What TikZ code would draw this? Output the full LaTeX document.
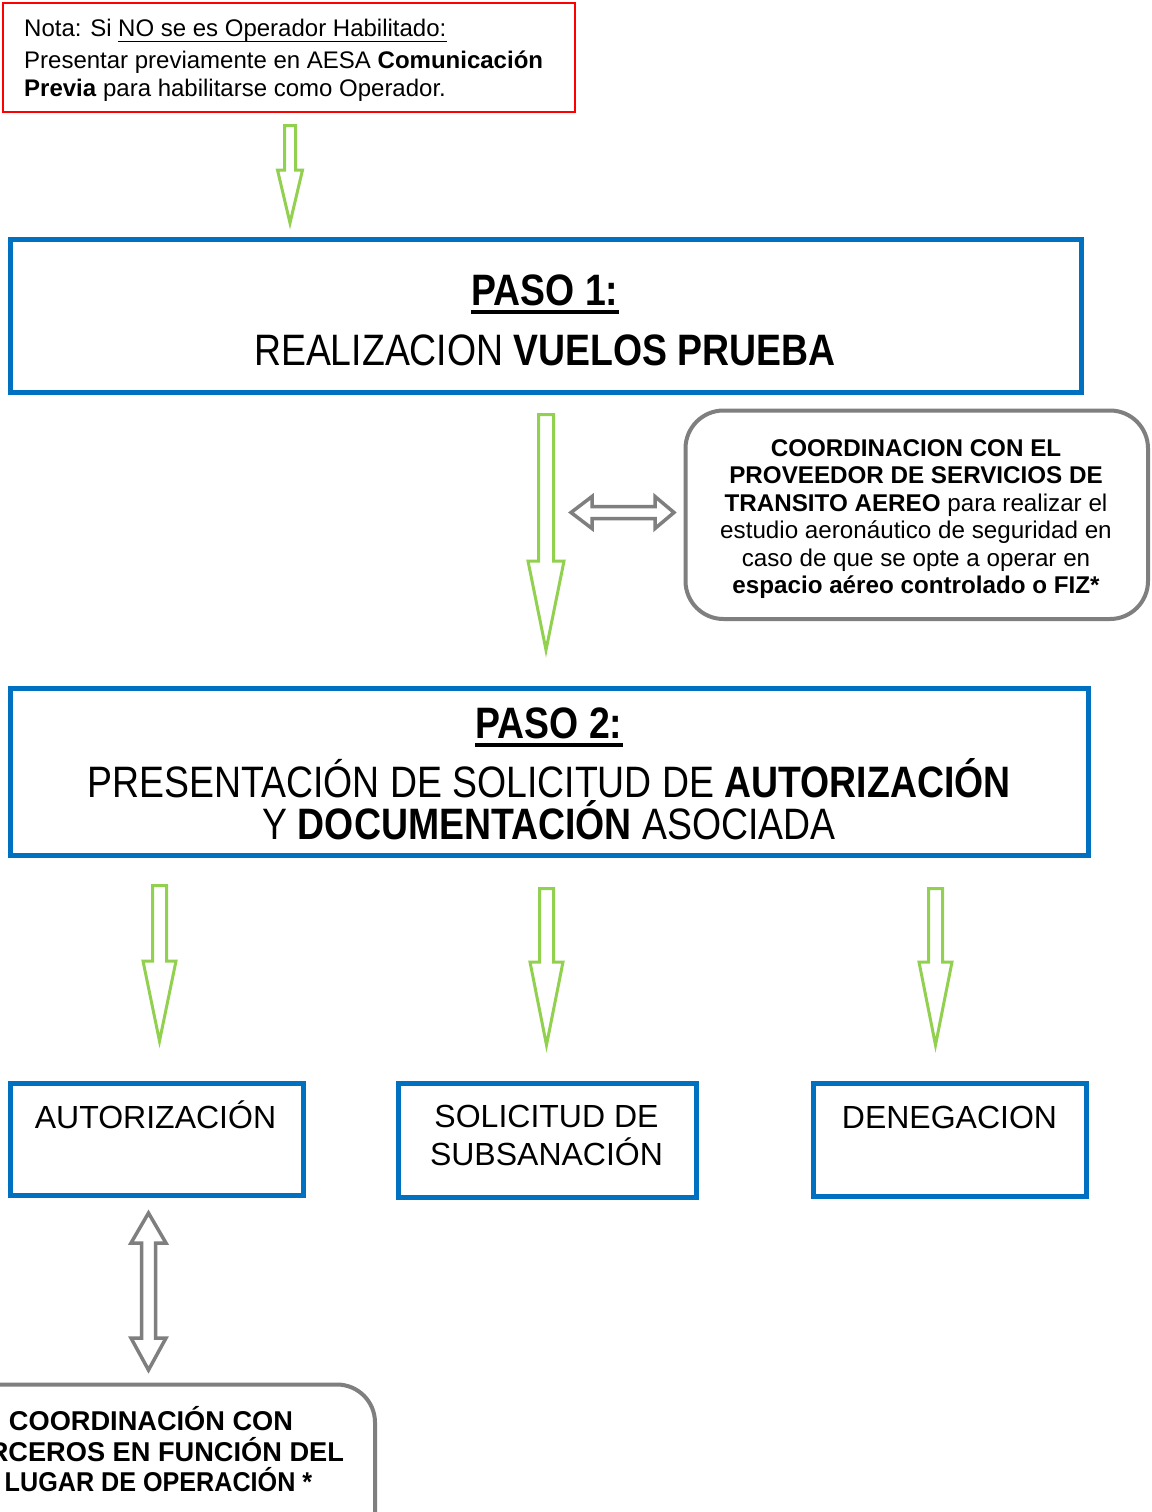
\documentclass[tikz,border=0pt]{standalone}
\usepackage{fontspec}
\setmainfont{Liberation Sans}
\newfontfamily\condfont[FakeStretch=0.85]{Liberation Sans}
\usetikzlibrary{calc}
\definecolor{boxblue}{HTML}{0070C0}
\definecolor{agreen}{HTML}{92D050}
\definecolor{agray}{HTML}{7F7F7F}
% green down block arrow: name, cx, ytop, yhead, ytip, half shaft, half head
\newcommand\gdown[7]{%
  \coordinate (#1-top) at (#2,#3);
  \coordinate (#1-tip) at (#2,#5);
  \draw[garrow] ({#2-#6},#3) -- ({#2+#6},#3) -- ({#2+#6},#4) -- ({#2+#7},#4)
    -- (#1-tip) -- ({#2-#7},#4) -- ({#2-#6},#4) -- cycle;}
% gray horizontal double arrow: name, cy, xl, xlh, xrh, xr, hs, hh
\newcommand\ghdouble[8]{%
  \coordinate (#1-l) at (#3,#2);
  \coordinate (#1-r) at (#6,#2);
  \draw[darrow] (#1-l) -- (#4,{#2-#8}) -- (#4,{#2-#7}) -- (#5,{#2-#7}) -- (#5,{#2-#8})
    -- (#1-r) -- (#5,{#2+#8}) -- (#5,{#2+#7}) -- (#4,{#2+#7}) -- (#4,{#2+#8}) -- cycle;}
% gray vertical double arrow: name, cx, yt, yth, ybh, yb, hs, hh
\newcommand\gvdouble[8]{%
  \coordinate (#1-t) at (#2,#3);
  \coordinate (#1-b) at (#2,#6);
  \draw[darrow] (#1-t) -- ({#2+#8},#4) -- ({#2+#7},#4) -- ({#2+#7},#5) -- ({#2+#8},#5)
    -- (#1-b) -- ({#2-#8},#5) -- ({#2-#7},#5) -- ({#2-#7},#4) -- ({#2-#8},#4) -- cycle;}
\begin{document}
\begin{tikzpicture}[x=1pt,y=-1pt,
  bluebox/.style={draw=boxblue, line width=5pt, inner sep=0pt},
  rbox/.style={draw=agray, line width=4pt, rounded corners=38pt, inner sep=0pt},
  garrow/.style={draw=agreen, line width=3pt, line join=miter, fill=white},
  darrow/.style={draw=agray, line width=3.5pt, line join=miter, fill=white},
  notetxt/.style={font=\fontsize{24}{29}\selectfont, inner sep=0pt, anchor=base west},
  pasotxt/.style={font=\condfont\fontsize{44}{50}\selectfont, inner sep=0pt, anchor=base},
  coordtxt/.style={font=\fontsize{24.2}{28}\selectfont, inner sep=0pt, anchor=base},
  restxt/.style={font=\fontsize{32}{36}\selectfont, inner sep=0pt, anchor=base},
  tertxt/.style={font=\bfseries\fontsize{27.2}{30}\selectfont, inner sep=0pt, anchor=base}]
\useasboundingbox (0,0) rectangle (1151,1512);
\clip (0,0) rectangle (1151,1512);
\fill[white] (0,0) rectangle (1151,1512);

% Nota box
\node[draw=red, line width=1.5pt, inner sep=0pt, minimum width=572pt, minimum height=109pt] (nota) at (289,57.5) {};
\node[notetxt] (nota1) at (24,37) {Nota: Si};
\node[notetxt] (nota1u) at ($(nota1.base east)+(6,0)$) {NO se es Operador Habilitado:};
\draw[line width=1.5pt] ($(nota1u.base west)+(0,4.3)$) -- ($(nota1u.base east)+(0,4.3)$);
\node[notetxt] (nota2) at (24,68) {Presentar previamente en AESA \textbf{Comunicación}};
\node[notetxt] (nota3) at (24,96) {\textbf{Previa} para habilitarse como Operador.};

% arrow 1
\gdown{a1}{290}{125.5}{170}{223}{5.5}{12.5}

% PASO 1
\node[bluebox, minimum width=1071pt, minimum height=153pt] (paso1) at (546,316) {};
\node[pasotxt] (paso1t) at (545,305) {\bfseries PASO 1:};
\draw[line width=4pt] ($(paso1t.base west)+(0,6.5)$) -- ($(paso1t.base east)+(0,6.5)$);
\node[pasotxt] (paso1l) at (545,365) {REALIZACION \textbf{VUELOS PRUEBA}};

% arrow 2
\gdown{a2}{546}{414.5}{561}{650}{7.5}{18}

% coordination box (right)
\node[rbox, minimum width=462.5pt, minimum height=208.5pt] (coordA) at (916.75,514.75) {};
\node[coordtxt] (cA1) at (916,456) {\bfseries COORDINACION CON EL};
\node[coordtxt] (cA2) at (916,483.5) {\bfseries PROVEEDOR DE SERVICIOS DE};
\node[coordtxt] (cA3) at (916,511) {\textbf{TRANSITO AEREO} para realizar el};
\node[coordtxt] (cA4) at (916,538.5) {estudio aeronáutico de seguridad en};
\node[coordtxt] (cA5) at (916,566.5) {caso de que se opte a operar en};
\node[coordtxt] (cA6) at (916,593.5) {\bfseries espacio aéreo controlado o FIZ*};

% horizontal double arrow
\ghdouble{h1}{512.5}{571}{592}{655}{674}{6}{16}

% PASO 2
\node[bluebox, minimum width=1078pt, minimum height=167pt] (paso2) at (549.5,772) {};
\node[pasotxt] (paso2t) at (549,738) {\bfseries PASO 2:};
\draw[line width=4pt] ($(paso2t.base west)+(0,6.5)$) -- ($(paso2t.base east)+(0,6.5)$);
\node[pasotxt] (paso2l) at (549,797) {PRESENTACIÓN DE SOLICITUD DE \textbf{AUTORIZACIÓN}};
\node[pasotxt] (paso2m) at (549,839) {Y \textbf{DOCUMENTACIÓN} ASOCIADA};

% three arrows
\gdown{a3}{159.5}{885.5}{961}{1041}{7}{16.5}
\gdown{a4}{546.5}{888.5}{962}{1045}{7}{16.5}
\gdown{a5}{935.5}{888.5}{962}{1045}{7}{16.5}

% result boxes
\node[bluebox, minimum width=293pt, minimum height=112.5pt] (aut) at (156.5,1139.25) {};
\node[restxt] (autt) at (155.5,1128) {AUTORIZACIÓN};
\node[bluebox, minimum width=298pt, minimum height=114pt] (sub) at (547,1140.5) {};
\node[restxt] (sub1) at (546.5,1127) {SOLICITUD DE};
\node[restxt] (sub2) at (546.5,1165) {SUBSANACIÓN};
\node[bluebox, minimum width=273pt, minimum height=112.5pt] (den) at (949.5,1139.75) {};
\node[restxt] (dent) at (949.5,1128) {DENEGACION};

% vertical double arrow
\gvdouble{v1}{148.5}{1213}{1243}{1338}{1370}{7}{17.5}

% coordination box (bottom)
\node[rbox, minimum width=450pt, minimum height=215pt] (coordB) at (150,1492) {};
\node[tertxt] (cB1) at (151,1430) {COORDINACIÓN CON};
\node[tertxt] (cB2) at (149,1461) {TERCEROS EN FUNCIÓN DEL};
\node[tertxt] (cB3) at (158.5,1491) {\scalebox{0.925}[1]{LUGAR DE OPERACIÓN *}};
\end{tikzpicture}
\end{document}
